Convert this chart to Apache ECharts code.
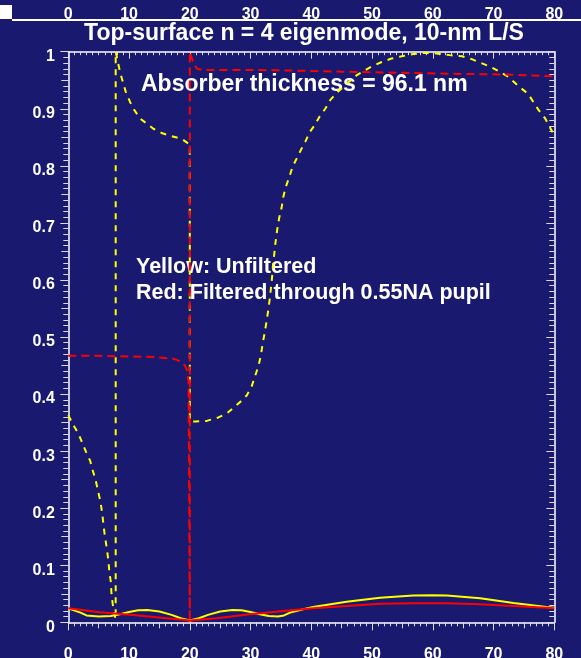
<!DOCTYPE html>
<html>
<head>
<meta charset="utf-8">
<script src="https://cdn.jsdelivr.net/npm/echarts@6/dist/echarts.min.js"></script>
<style>
  html, body { margin: 0; padding: 0; background: #191970; }
  #chart { width: 581px; height: 658px; }
</style>
</head>
<body>
<div id="chart"></div>
<script>
// Unfiltered field (yellow dashed)
const unfilteredX = [0, 0.8, 1.65, 2.2, 2.9, 3.6, 4.0, 4.5, 4.9, 5.3, 5.6, 5.8, 6.0, 6.3, 6.6, 6.75, 7.0, 7.1, 7.3, 7.5, 7.8,
  7.8, 8.5, 9.45, 10.16, 10.8, 11.8, 12.8, 14, 15.5, 17, 18.7, 19.75, 20.0,
  20.0, 20.9, 22.8, 24.7, 26.1, 27.4, 28.5, 29.4, 30.2, 30.7, 31.3, 31.7, 32.0, 32.3, 32.6, 32.9, 33.2, 33.5, 33.8, 34.1, 34.4, 34.7, 35.1, 35.4, 35.8, 36.4, 36.9, 37.6, 38.3, 39.0, 39.8,
  40.6, 41.4, 42.3, 43.1, 44.2, 45.3, 47.5, 49.9, 51.6, 53.2, 54.9, 56.8, 58.7, 60.6, 62.8, 64.8, 66.4, 68.0, 69.4, 71.0, 72.4, 74.3, 75.7, 77.4, 78.5, 79.8, 80];
const unfilteredY = [0.363, 0.346, 0.331, 0.317, 0.299, 0.283, 0.267, 0.249, 0.230, 0.211, 0.190, 0.170, 0.153, 0.132, 0.109, 0.089, 0.071, 0.051, 0.033, 0.019, 0.005,
  1.0, 0.965, 0.93, 0.912, 0.899, 0.883, 0.875, 0.865, 0.857, 0.852, 0.847, 0.839, 0.835,
  0.352, 0.352, 0.353, 0.359, 0.366, 0.378, 0.388, 0.398, 0.414, 0.430, 0.449, 0.468, 0.489, 0.506, 0.525, 0.546, 0.570, 0.600, 0.635, 0.665, 0.689, 0.708, 0.726, 0.746, 0.763, 0.781, 0.798, 0.813, 0.828, 0.842, 0.860,
  0.872, 0.887, 0.900, 0.915, 0.928, 0.939, 0.959, 0.974, 0.982, 0.988, 0.992, 0.996, 0.998, 0.997, 0.994, 0.992, 0.987, 0.980, 0.974, 0.965, 0.956, 0.938, 0.926, 0.898, 0.883, 0.857, 0.852];

// Field filtered through the 0.55NA pupil (red dashed)
const filteredX = [0, 5, 10, 14, 16, 17.3, 18.5, 19.2, 19.6, 19.8, 20, 20, 20.6, 21.2, 22, 24, 30, 37, 45, 55, 65, 72, 80];
const filteredY = [0.467, 0.467, 0.466, 0.465, 0.463, 0.462, 0.457, 0.450, 0.440, 0.42, 0, 1.0, 0.98, 0.97, 0.968, 0.968, 0.968, 0.967, 0.965, 0.963, 0.961, 0.960, 0.957];

// Lower curves (solid)
const lowYellowX = [0, 2, 3, 5, 7, 8.5, 10, 11.5, 13, 15, 17, 18.5, 20, 21.5, 23, 25, 27, 28.5, 30, 31.5, 33, 34.5, 35.5, 36.5, 38, 40.3, 45.8, 51.3, 56.8, 60, 62.3, 67.8, 73.3, 78.7, 80];
const lowYellowY = [0.0245, 0.017, 0.012, 0.010, 0.011, 0.014, 0.018, 0.021, 0.0215, 0.019, 0.013, 0.007, 0.003, 0.007, 0.013, 0.019, 0.0215, 0.021, 0.018, 0.014, 0.011, 0.010, 0.012, 0.017, 0.021, 0.027, 0.036, 0.043, 0.047, 0.0475, 0.047, 0.042, 0.034, 0.027, 0.0256];
const lowRedX = [0, 5.2, 10.7, 16.2, 20, 24.4, 29.9, 35.4, 40.3, 45.8, 51.3, 56.8, 60, 62.3, 67.8, 73.3, 78.7, 80];
const lowRedY = [0.0245, 0.0175, 0.0128, 0.007, 0.003, 0.007, 0.014, 0.0198, 0.0245, 0.0286, 0.0326, 0.0333, 0.0335, 0.0333, 0.0315, 0.0286, 0.0256, 0.0245];

const titleText = 'Top-surface n = 4 eigenmode, 10-nm L/S';
const noteThickness = 'Absorber thickness = 96.1 nm';
const noteYellow = 'Yellow: Unfiltered';
const noteRed = 'Red: Filtered through 0.55NA pupil';

const FONT = '"Liberation Sans", Arial, Helvetica, sans-serif';
const TICK = '#dcdcec';
const pairs = (xs, ys) => xs.map((x, i) => [x, ys[i]]);

const chart = echarts.init(document.getElementById('chart'), null, { renderer: 'canvas' });

const labelStyle = { color: '#ffffff', fontSize: 16, fontWeight: 'bold', fontFamily: FONT };
const noLine = { show: false };
const noSplit = { show: false };

function xAx(extra) {
  return Object.assign({ type: 'value', min: 0, max: 80, splitLine: noSplit }, extra);
}
function yAx(extra) {
  return Object.assign({ type: 'value', min: 0, max: 1, splitLine: noSplit }, extra);
}

const option = {
  backgroundColor: '#191970',
  animation: false,
  grid: { left: 68.3, right: 26.7, top: 51.7, bottom: 35.7, containLabel: false, outerBoundsMode: 'none' },
  xAxis: [
    // bottom axis with labels
    xAx({ position: 'bottom', interval: 10,
      axisLine: { show: true, onZero: false, lineStyle: { color: '#ffffff', width: 1.5 } },
      axisTick: { show: true, inside: false, length: 8, lineStyle: { color: TICK, width: 1 } },
      minorTick: { show: true, splitNumber: 10, length: 4, lineStyle: { color: TICK, width: 1 } },
      axisLabel: Object.assign({ margin: 24 }, labelStyle) }),
    xAx({ position: 'bottom', interval: 5, axisLine: noLine,
      axisTick: { show: true, inside: false, length: 6, lineStyle: { color: TICK, width: 1 } },
      axisLabel: { show: false } }),
    // top frame, ticks pointing in
    xAx({ position: 'top', interval: 10,
      axisLine: { show: true, onZero: false, lineStyle: { color: '#ffffff', width: 1.5 } },
      axisTick: { show: true, inside: true, length: 7, lineStyle: { color: TICK, width: 1 } },
      minorTick: { show: true, splitNumber: 10, length: 3.5, lineStyle: { color: TICK, width: 1 } },
      axisLabel: { show: false } }),
    xAx({ position: 'top', interval: 5, axisLine: noLine,
      axisTick: { show: true, inside: true, length: 5, lineStyle: { color: TICK, width: 1 } },
      axisLabel: { show: false } }),
    // upper scale labels
    xAx({ position: 'top', offset: 31.7, interval: 10, axisLine: noLine, axisTick: { show: false },
      axisLabel: Object.assign({ margin: -2.5 }, labelStyle) })
  ],
  yAxis: [
    yAx({ position: 'left', interval: 0.1,
      axisLine: { show: true, onZero: false, lineStyle: { color: '#ffffff', width: 1.5 } },
      axisTick: { show: true, inside: false, length: 8, lineStyle: { color: TICK, width: 1 } },
      minorTick: { show: true, splitNumber: 10, length: 5, lineStyle: { color: TICK, width: 1 } },
      axisLabel: Object.assign({ margin: 13.5, verticalAlign: 'top', lineHeight: 10 }, labelStyle) }),
    yAx({ position: 'left', interval: 0.05, axisLine: noLine,
      axisTick: { show: true, inside: false, length: 6.7, lineStyle: { color: TICK, width: 1 } },
      axisLabel: { show: false } }),
    yAx({ position: 'right', interval: 0.1,
      axisLine: { show: true, onZero: false, lineStyle: { color: '#ffffff', width: 1.5 } },
      axisTick: { show: true, inside: true, length: 8, lineStyle: { color: TICK, width: 1 } },
      minorTick: { show: true, splitNumber: 10, length: 5, lineStyle: { color: TICK, width: 1 } },
      axisLabel: { show: false } }),
    yAx({ position: 'right', interval: 0.05, axisLine: noLine,
      axisTick: { show: true, inside: true, length: 6.7, lineStyle: { color: TICK, width: 1 } },
      axisLabel: { show: false } })
  ],
  series: [
    { type: 'line', name: 'unfiltered', data: pairs(unfilteredX, unfilteredY), showSymbol: false, smooth: false,
      lineStyle: { color: '#ffff00', width: 2, type: [6, 6] }, z: 2 },
    { type: 'line', name: 'filtered', data: pairs(filteredX, filteredY), showSymbol: false, smooth: false,
      lineStyle: { color: '#ff0000', width: 2, type: [8, 5] }, z: 3 },
    { type: 'line', name: 'unfiltered-low', data: pairs(lowYellowX, lowYellowY), showSymbol: false, smooth: false,
      lineStyle: { color: '#ffff00', width: 2 }, z: 4 },
    { type: 'line', name: 'filtered-low', data: pairs(lowRedX, lowRedY), showSymbol: false, smooth: false,
      lineStyle: { color: '#ff0000', width: 2 }, z: 5 }
  ],
  graphic: [
    { type: 'rect', shape: { x: 0, y: 5, width: 12, height: 14 }, style: { fill: '#ffffff' } },
    { type: 'line', shape: { x1: 12, y1: 20, x2: 581, y2: 20 }, style: { stroke: '#ffffff', lineWidth: 2 } },
    { type: 'text', x: 304, y: 33.5, style: { text: titleText, fill: '#ffffff', font: 'bold 23px ' + FONT, textAlign: 'center', textVerticalAlign: 'middle' } },
    { type: 'text', x: 141, y: 85, style: { text: noteThickness, fill: '#ffffff', font: 'bold 23px ' + FONT, textAlign: 'left', textVerticalAlign: 'middle' } },
    { type: 'text', x: 136, y: 267.5, style: { text: noteYellow, fill: '#ffffff', font: 'bold 21.5px ' + FONT, textAlign: 'left', textVerticalAlign: 'middle' } },
    { type: 'text', x: 136, y: 293.5, style: { text: noteRed, fill: '#ffffff', font: 'bold 21.5px ' + FONT, textAlign: 'left', textVerticalAlign: 'middle' } }
  ]
};

chart.setOption(option);
</script>
</body>
</html>
